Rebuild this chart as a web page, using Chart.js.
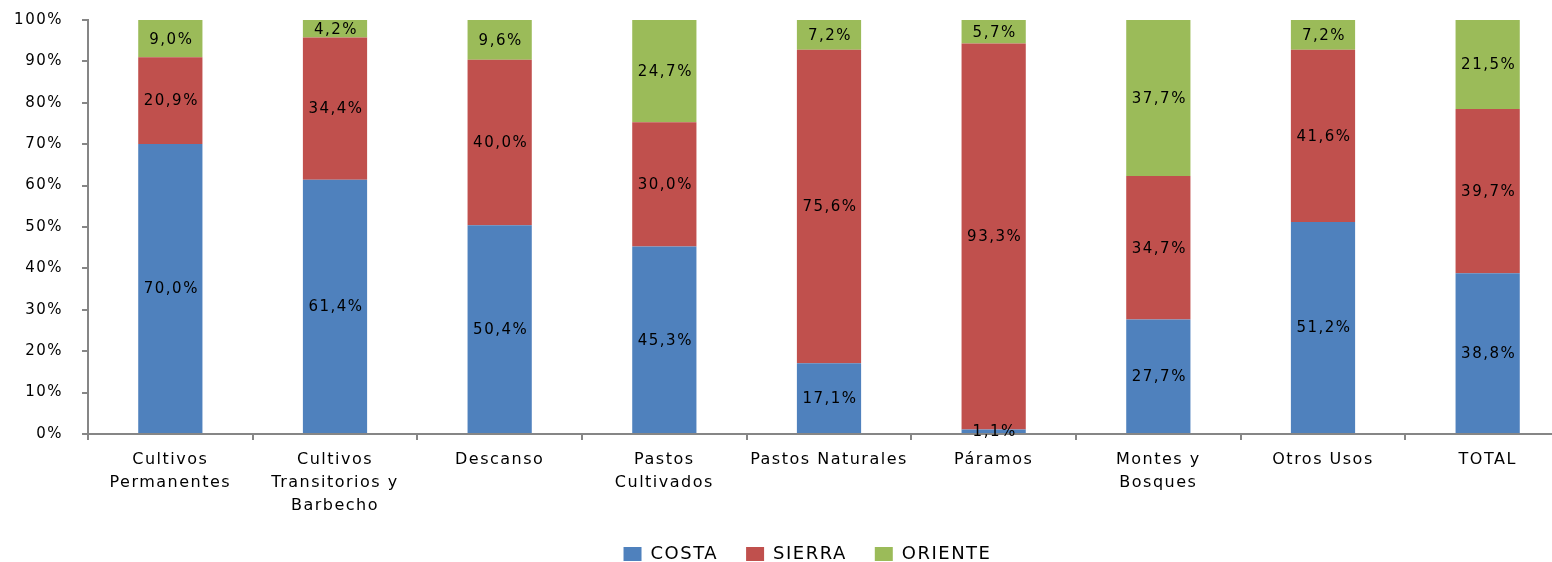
<!DOCTYPE html>
<html>
<head>
<meta charset="utf-8">
<script src="https://cdn.jsdelivr.net/npm/chart.js@4"></script>
<style>
  html, body { margin: 0; padding: 0; background: #fff; overflow: hidden; }
  /* el grafico original es algo mas ancho y esta recortado a la derecha */
  #wrap { width: 1570px; height: 562px; position: relative; }
</style>
</head>
<body>
<div id="wrap"><canvas id="landUseChart"></canvas></div>
<script>
// categorias (uso del suelo)
const categories = [
    ['Cultivos', 'Permanentes'],
    ['Cultivos', 'Transitorios y', 'Barbecho'],
    'Descanso',
    ['Pastos', 'Cultivados'],
    'Pastos Naturales',
    'Páramos',
    ['Montes y', 'Bosques'],
    'Otros Usos',
    'TOTAL'
];
// porcentajes por region
const costa   = [70.0, 61.4, 50.4, 45.3, 17.1, 1.1, 27.7, 51.2, 38.8];
const sierra  = [20.9, 34.4, 40.0, 30.0, 75.6, 93.3, 34.7, 41.6, 39.7];
const oriente = [9.0, 4.2, 9.6, 24.7, 7.2, 5.7, 37.7, 7.2, 21.5];
const yTicks  = [0, 10, 20, 30, 40, 50, 60, 70, 80, 90, 100];

const FONT = 'DejaVu Sans';
const AXIS_GREY = '#868686';
const SPACING = '1.5px';   // el original tiene texto bastante espaciado

// 100% apilado: cada columna se escala a su suma
const totals = costa.map((v, i) => v + sierra[i] + oriente[i]);
const share = arr => arr.map((v, i) => v / totals[i] * 100);

const fmt = v => v.toFixed(1).replace('.', ',') + '%';

// espaciado de letras para ejes y leyenda (medir y dibujar igual)
const letterSpacing = {
    id: 'letterSpacing',
    beforeLayout(chart) { chart.ctx.letterSpacing = SPACING; },
    beforeDraw(chart) { chart.ctx.letterSpacing = SPACING; }
};

// la leyenda del original queda centrada sobre un ancho mayor
const legendShift = {
    id: 'legendShift',
    afterLayout(chart) {
        const lg = chart.legend;
        lg.left += 15; lg.right += 15;
        lg.top -= 8; lg.bottom -= 8;
    }
};

// etiquetas de datos centradas en cada segmento
const segmentLabels = {
    id: 'segmentLabels',
    afterDatasetsDraw(chart) {
        const ctx = chart.ctx;
        ctx.save();
        ctx.letterSpacing = '1.5px';
        ctx.font = '15px ' + FONT;
        ctx.fillStyle = '#000';
        ctx.textAlign = 'center';
        ctx.textBaseline = 'middle';
        chart.data.datasets.forEach((ds, di) => {
            const meta = chart.getDatasetMeta(di);
            meta.data.forEach((bar, i) => {
                const { x, y, base } = bar.getProps(['x', 'y', 'base'], true);
                ctx.fillText(fmt(ds.raw[i]), x + 1, (y + base) / 2 + 1);
            });
        });
        ctx.restore();
    }
};

const ctx = document.getElementById('landUseChart').getContext('2d');
new Chart(ctx, {
    type: 'bar',
    data: {
        labels: categories,
        datasets: [
            { label: 'COSTA', data: share(costa), raw: costa, backgroundColor: '#4F81BD' },
            { label: 'SIERRA', data: share(sierra), raw: sierra, backgroundColor: '#C0504D' },
            { label: 'ORIENTE', data: share(oriente), raw: oriente, backgroundColor: '#9BBB59' }
        ]
    },
    options: {
        responsive: true,
        maintainAspectRatio: false,
        animation: false,
        devicePixelRatio: 1,
        layout: { padding: { top: 20, right: 0, left: 15, bottom: -19 } },
        datasets: { bar: { categoryPercentage: 1, barPercentage: 0.39, borderWidth: 0 } },
        scales: {
            x: {
                stacked: true,
                offset: true,
                grid: { drawOnChartArea: false, drawTicks: true, tickLength: 6, color: AXIS_GREY, lineWidth: 2, offset: true },
                border: { color: AXIS_GREY, width: 2 },
                ticks: { color: '#000', font: { family: FONT, size: 16, lineHeight: '23px' }, padding: 8, maxRotation: 0, autoSkip: false }
            },
            y: {
                stacked: true,
                min: 0,
                max: 100,
                afterBuildTicks: axis => { axis.ticks = yTicks.map(v => ({ value: v })); },
                afterFit: axis => { axis.width = 73; axis.paddingTop = 0; axis.paddingBottom = 0; },
                grid: { drawOnChartArea: false, drawTicks: true, tickLength: 6, color: AXIS_GREY, lineWidth: 2 },
                border: { color: AXIS_GREY, width: 2 },
                ticks: { color: '#000', font: { family: FONT, size: 15 }, padding: 19, callback: v => v + '%' }
            }
        },
        plugins: {
            legend: {
                position: 'bottom',
                labels: { color: '#000', font: { family: FONT, size: 18 }, boxWidth: 18, boxHeight: 14, padding: 28 }
            },
            tooltip: { enabled: false }
        }
    },
    plugins: [letterSpacing, legendShift, segmentLabels]
});
</script>
</body>
</html>
